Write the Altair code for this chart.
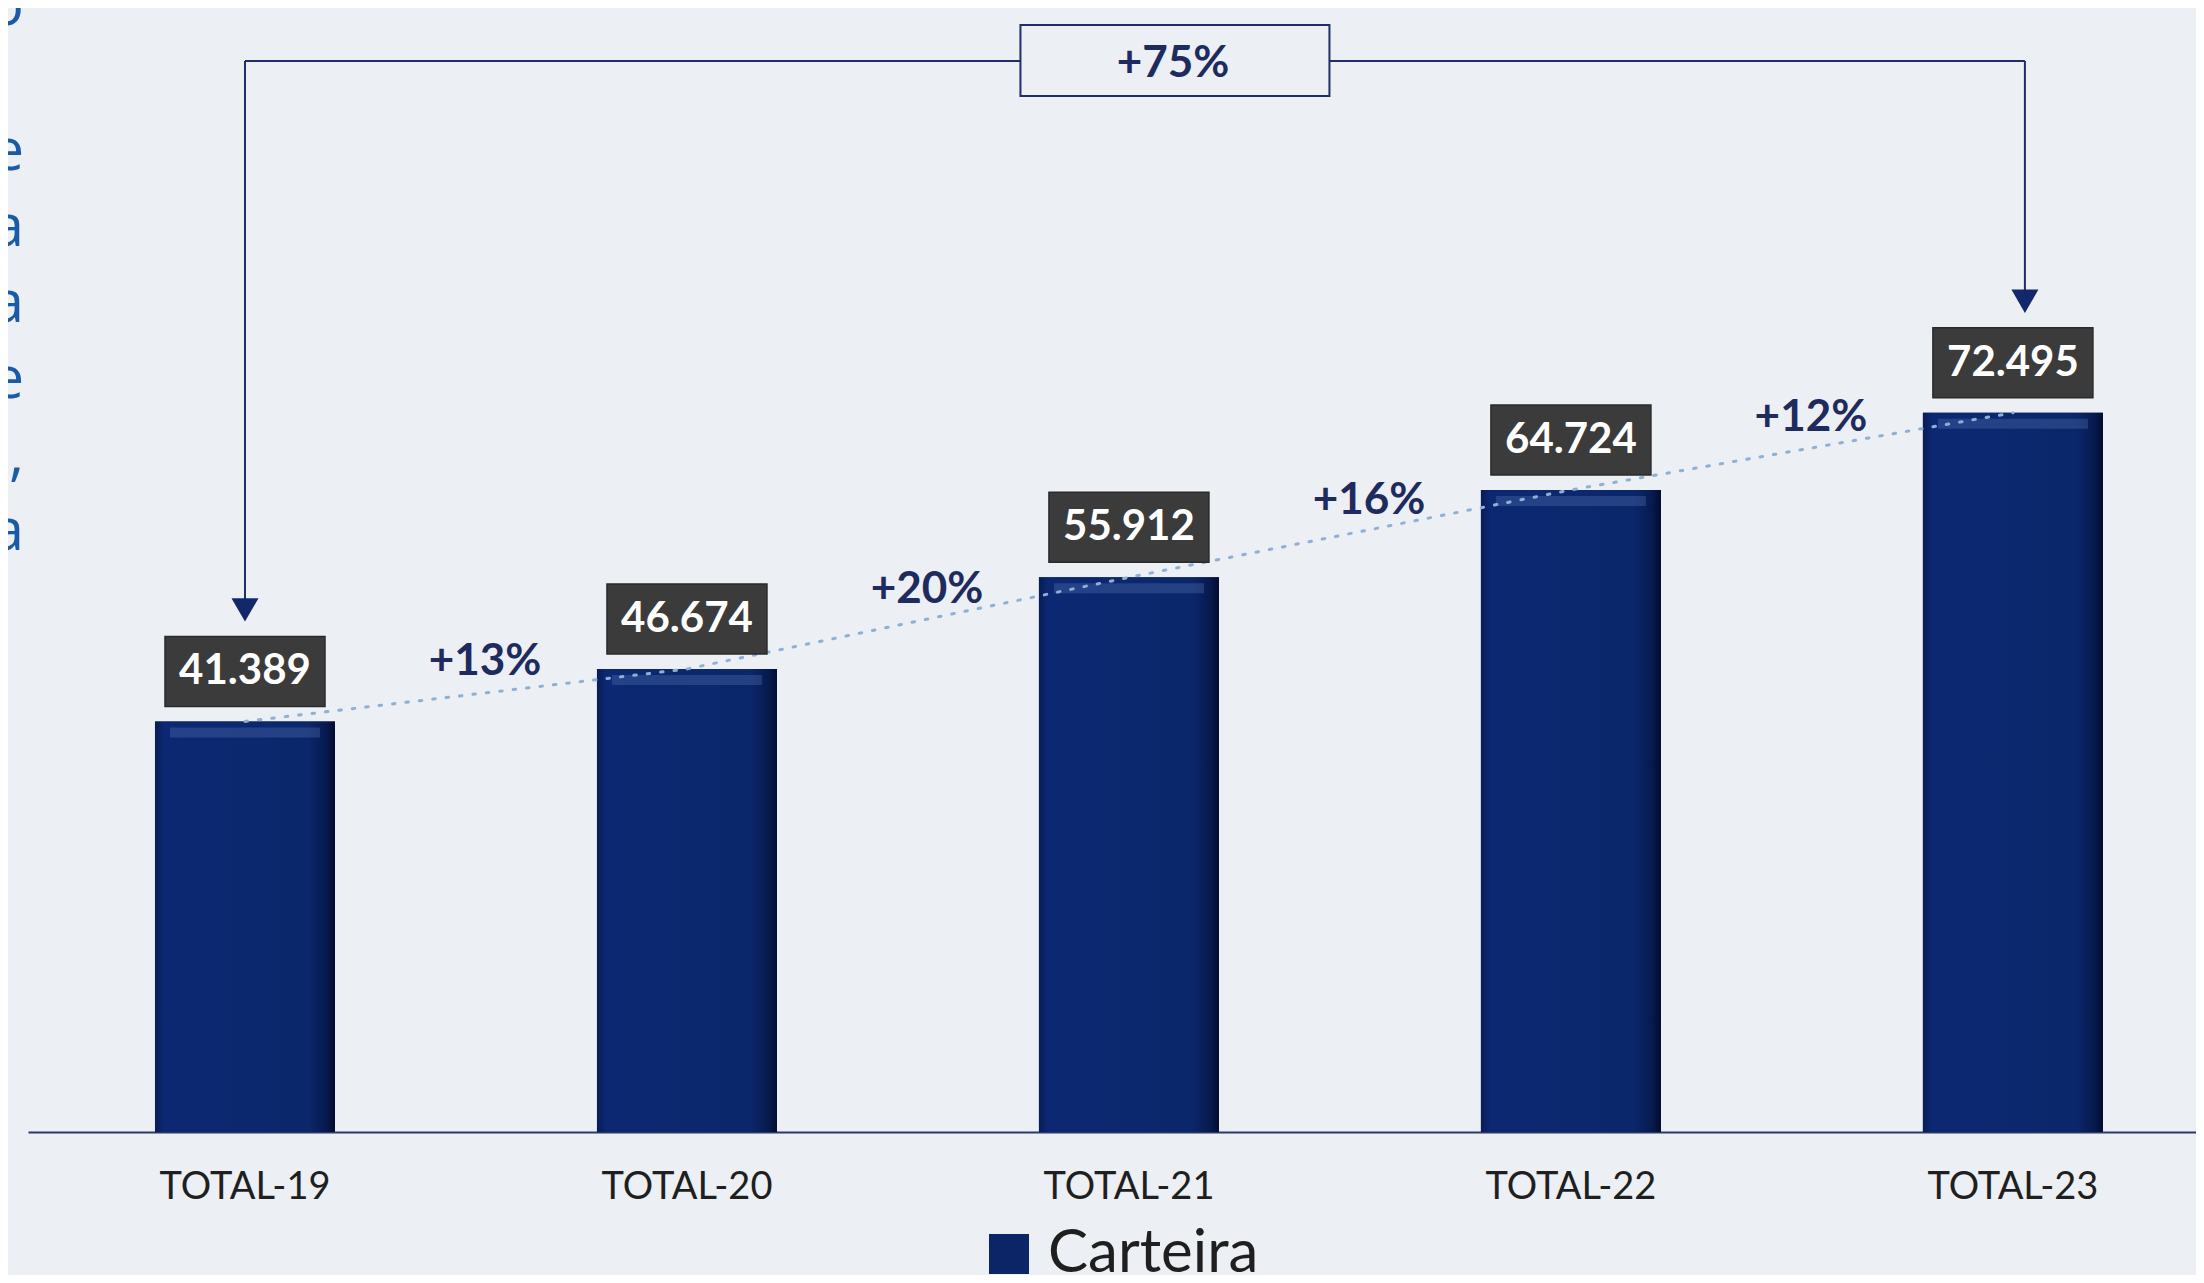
import altair as alt
import pandas as pd

# ---- data ----
categories = ["TOTAL-19", "TOTAL-20", "TOTAL-21", "TOTAL-22", "TOTAL-23"]
values = [41.389, 46.674, 55.912, 64.724, 72.495]
value_labels = ["41.389", "46.674", "55.912", "64.724", "72.495"]
growth_labels = ["+13%", "+20%", "+16%", "+12%"]
total_growth = "+75%"
series_name = "Carteira"
left_fragment_top = "o"
left_fragments = ["e", "a", "a", "e", "s,", "a"]

# ---- tables built from the lists ----
bars = pd.DataFrame({"cat": categories, "value": values, "label": value_labels,
                     "series": [series_name] * len(categories)})
growth = pd.DataFrame({
    "cat": categories[:-1],
    "mid": [(values[i] + values[i + 1]) / 2 for i in range(len(values) - 1)],
    "label": growth_labels,
})
end_left = pd.DataFrame({"cat": [categories[0]], "value": [values[0]]})
end_right = pd.DataFrame({"cat": [categories[-1]], "value": [values[-1]]})
span = pd.DataFrame({"cat": [categories[0]], "cat_end": [categories[-1]]})
total = pd.DataFrame({"cat": [categories[len(categories) // 2]], "label": [total_growth]})

BG = "#eceff3"
NAVY = "#1f2e66"
BAR = "#0b2566"

xscale = alt.Scale(domain=categories, paddingInner=0.5928, paddingOuter=0.249, align=0.577)
yscale = alt.Scale(domain=[0, 113.3], nice=False, zero=True)

X = alt.X("cat:N", scale=xscale, sort=categories, title=None,
          axis=alt.Axis(labelAngle=0, ticks=False, grid=False, domainColor="#2a3868",
                        domainWidth=2, labelFont="Lato", labelFontSize=38,
                        labelColor="#1f1f1f", labelPadding=36))
Y = alt.Y("value:Q", scale=yscale, axis=None, title=None)

base = alt.Chart(bars)

bars_legend = base.mark_bar(size=180).encode(
    x=X, y=Y,
    color=alt.Color("series:N", scale=alt.Scale(range=[BAR]),
                    legend=alt.Legend(title=None, orient="none", legendX=951, legendY=1216,
                                      symbolType="square", symbolSize=1600,
                                      symbolStrokeWidth=0, labelFont="Lato",
                                      labelFontSize=60, labelColor="#1f1f1f",
                                      labelOffset=9, labelLimit=0, padding=0)),
)

grad = alt.Gradient(
    gradient="linear", x1=0, x2=1, y1=0, y2=0,
    stops=[
        alt.GradientStop(color="#081c55", offset=0),
        alt.GradientStop(color="#0c2872", offset=0.05),
        alt.GradientStop(color="#0b276b", offset=0.85),
        alt.GradientStop(color="#071a4f", offset=0.95),
        alt.GradientStop(color="#030c2e", offset=1),
    ],
)
bars_grad = base.mark_bar(size=180, fill=grad).encode(x=X, y=Y)

highlight = base.mark_bar(size=150, color="#5473b3", opacity=0.35,
                          yOffset=6, y2Offset=16).encode(
    x=X, y=Y, y2=alt.Y2("value:Q"))

dotted = base.mark_line(color="#8fb0d6", strokeDash=[2.5, 11], strokeWidth=3,
                        strokeCap="round").encode(x=X, y=Y)

boxes = base.mark_bar(size=160, color="#3b3b3b", stroke="#2a2a2a", strokeWidth=1.5,
                      yOffset=-85, y2Offset=-15).encode(
    x=X, y=Y, y2=alt.Y2("value:Q"))

box_text = base.mark_text(dy=-50, font="Lato", fontWeight="bold", fontSize=42,
                          color="white", baseline="middle").encode(
    x=X, y=Y, text="label:N")

growth_text = alt.Chart(growth).mark_text(
    dx=240, dy=-33, font="Lato", fontWeight="bold", fontSize=44,
    color="#1e2b5e", baseline="middle").encode(
    x=X, y=alt.Y("mid:Q", scale=yscale, axis=None), text="label:N")

vert_left = alt.Chart(end_left).mark_rule(color=NAVY, strokeWidth=2, yOffset=-122).encode(
    x=X, y=Y, y2=alt.value(53))
vert_right = alt.Chart(end_right).mark_rule(color=NAVY, strokeWidth=2, yOffset=-122,
                                            xOffset=12).encode(
    x=X, y=Y, y2=alt.value(53))

arrow_left = alt.Chart(end_left).mark_point(shape="triangle-down", filled=True, size=730,
                                            color="#13286b", opacity=1,
                                            yOffset=-111.5).encode(x=X, y=Y)
arrow_right = alt.Chart(end_right).mark_point(shape="triangle-down", filled=True, size=730,
                                              color="#13286b", opacity=1,
                                              yOffset=-111.5, xOffset=12).encode(x=X, y=Y)

horizontal = alt.Chart(span).mark_rule(color=NAVY, strokeWidth=2, x2Offset=12).encode(
    x=X, x2=alt.X2("cat_end:N"), y=alt.value(53))

total_box = alt.Chart(total).mark_bar(size=309, fill=BG, stroke=NAVY, strokeWidth=2,
                                      xOffset=46).encode(
    x=X, y=alt.value(17), y2=alt.value(88))

total_text = alt.Chart(total).mark_text(dx=44, font="Lato", fontWeight="bold",
                                        fontSize=44, color="#1e2b5e",
                                        baseline="middle").encode(
    x=X, y=alt.value(56), text="label:N")

frag_top = alt.Chart(pd.DataFrame({"t": [left_fragment_top]})).mark_text(
    font="Open Sans", fontSize=58, color="#1a5aa7", align="right",
    baseline="alphabetic").encode(x=alt.value(-4), y=alt.value(17), text="t:N")

frag_lines = alt.Chart(pd.DataFrame({"t": [0]})).mark_text(
    font="Open Sans", fontSize=58, color="#1a5aa7", align="right",
    baseline="alphabetic", lineHeight=76).encode(
    x=alt.value(-4), y=alt.value(162), text=alt.value(left_fragments))

chart = alt.layer(
    bars_legend, bars_grad, highlight, dotted, boxes, box_text, growth_text,
    horizontal, vert_left, vert_right, arrow_left, arrow_right,
    total_box, total_text, frag_top, frag_lines,
).properties(
    width=2168, height=1124,
    padding={"left": 20, "top": 0, "right": 0, "bottom": 143},
    autosize=alt.AutoSizeParams(type="none"),
    background=BG,
).configure_view(stroke=None)

chart.save("out.html", embed_options={"renderer": "svg", "actions": False})
